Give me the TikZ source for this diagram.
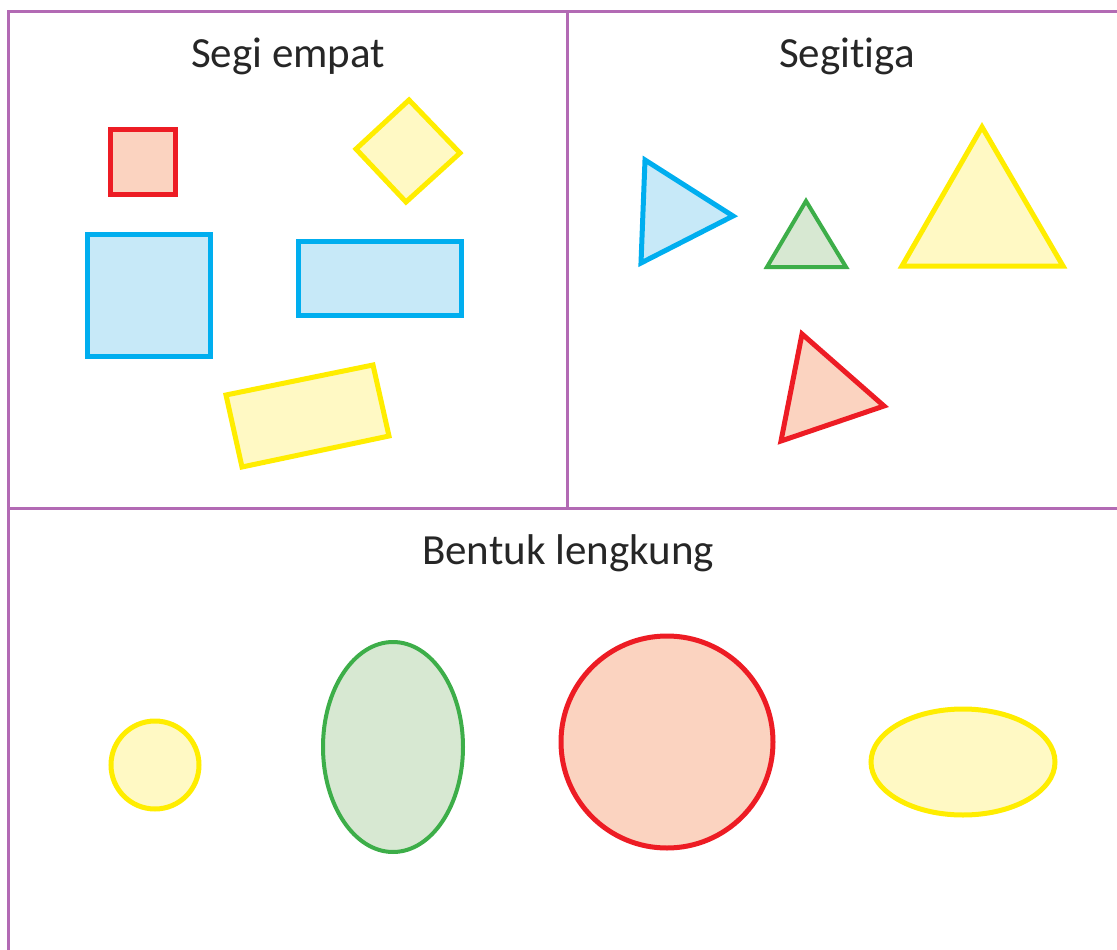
\documentclass[tikz,border=0pt]{standalone}
\usepackage{fontspec}
\setmainfont{Carlito}[Ligatures=NoCommon]
\usetikzlibrary{calc,positioning}

\definecolor{frame}{RGB}{178,106,180}
\definecolor{redline}{RGB}{237,28,36}
\definecolor{redfill}{RGB}{251,211,192}
\definecolor{yellowline}{RGB}{255,237,0}
\definecolor{yellowfill}{RGB}{255,249,196}
\definecolor{blueline}{RGB}{0,174,239}
\definecolor{bluefill}{RGB}{199,233,248}
\definecolor{greenline}{RGB}{61,174,73}
\definecolor{greenfill}{RGB}{215,232,210}

\begin{document}
\begin{tikzpicture}[x=1pt, y=-1pt,
  frameline/.style={frame, line width=3pt},
  title/.style={text=black!85, font=\fontsize{43}{50}\selectfont, inner sep=0pt},
  redshape/.style={draw=redline, fill=redfill, line width=5pt},
  yellowshape/.style={draw=yellowline, fill=yellowfill, line width=5pt},
  blueshape/.style={draw=blueline, fill=bluefill, line width=5pt},
  greenshape/.style={draw=greenline, fill=greenfill, line width=4pt}]
\useasboundingbox (0,0) rectangle (1117,950);

% frame
\coordinate (topleft) at (8.5, 11.5);
\coordinate (topright) at (1117, 11.5);
\coordinate (bottomleft) at (8.5, 950);
\coordinate (midtop) at (567.5, 11.5);
\coordinate (midleft) at (8.5, 508);
\coordinate (midright) at (1117, 508);
\coordinate (midcross) at (567.5, 508);
\draw [frameline] (bottomleft) -- (topleft) -- (topright);
\draw [frameline] (midtop) -- (midcross);
\draw [frameline] (midleft) -- (midright);

% titles
\node [title] (rectangles) at (288, 56) {Segi empat};
\node [title] (triangles) at (847, 56) {Segitiga};
\node [title] (curves) at (568, 553) {Bentuk lengkung};

% segi empat
\draw [redshape] (110.5, 129.5) rectangle (175.5, 194.5);
\draw [yellowshape] (409, 100) -- (460, 153) -- (406, 202) -- (356, 149) -- cycle;
\draw [blueshape] (87.5, 234.5) rectangle (210, 356);
\draw [blueshape] (298.5, 241.5) rectangle (461.5, 315);
\draw [yellowshape] (226, 395) -- (373, 365) -- (389, 436) -- (242, 467) -- cycle;

% segitiga
\draw [blueshape] (645, 160) -- (733, 216) -- (641, 263) -- cycle;
\draw [greenshape] (806, 201) -- (846, 267) -- (767, 267) -- cycle;
\draw [yellowshape] (982, 127) -- (1063, 266) -- (902, 266) -- cycle;
\draw [redshape] (802, 334) -- (884, 406) -- (781, 441) -- cycle;

% bentuk lengkung
\draw [yellowshape] (155, 765) circle [radius=44];
\draw [greenshape] (393, 747) ellipse [x radius=70, y radius=105];
\draw [redshape] (667, 742) circle [radius=106];
\draw [yellowshape] (963, 762) ellipse [x radius=92, y radius=53];
\end{tikzpicture}
\end{document}
